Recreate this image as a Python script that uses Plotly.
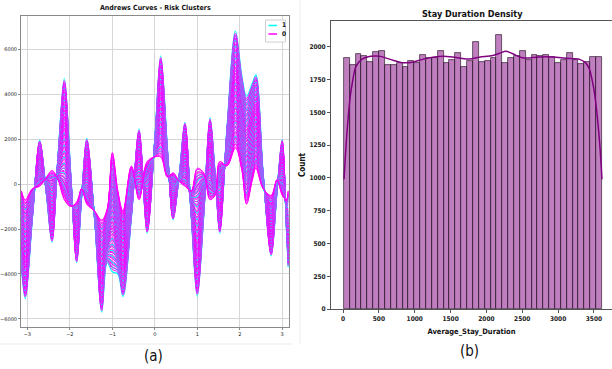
import plotly.graph_objects as go

# ---------------- data: Andrews curves ----------------
andrews_t = [-3.14, -3.05, -2.88, -2.71, -2.55, -2.42, -2.28, -2.13, -1.98, -1.84, -1.72, -1.60,
             -1.42, -1.25, -1.12, -1.00, -0.87, -0.75, -0.55, -0.37, -0.18, 0.00, 0.14, 0.30,
             0.43, 0.58, 0.71, 0.86, 1.00, 1.15, 1.30, 1.42, 1.53, 1.70, 1.90, 2.05, 2.16,
             2.30, 2.38, 2.55, 2.74, 2.88, 3.00, 3.10, 3.14]
curve_outer = [-3700, -5100, -1500, 1950, -500, -2600, 1200, 4700, 500, -3500, -500, 2030,
               -1500, -5700, -3500, -3900, -4000, -5000, -1500, 2450, -2200, 2000, 5700, 1500,
               -1600, 500, 2750, -1500, -5000, -1500, 2950, 500, -2200, 2500, 6800, 4800, 3900,
               4500, 4850, 500, -3200, -300, 1985, -2000, -3700]
curve_inner = [-300, -700, -200, -100, 300, 600, 200, -700, -1000, -800, -200, -900,
               -1200, -1600, -1100, 1400, -300, -1200, 800, -700, 1000, 1200, 1200, 300,
               500, 100, -100, -300, 700, 500, -700, -500, 1000, 800, 1600, 600, -900,
               200, 700, -200, -500, 200, -500, -700, -300]
# per-row mix between the inner and outer curve, one list per risk cluster
rows_cluster1 = [1.0, 0.96, 0.92, 0.87, 0.82, 0.77, 0.72, 0.66, 0.61, 0.55, 0.5, 0.45, 0.4,
                 0.35, 0.3, 0.26, 0.22, 0.18, 0.14, 0.1, 0.06]
rows_cluster0 = [0.98, 0.96, 0.94, 0.93, 0.91, 0.89, 0.88, 0.86, 0.84, 0.83, 0.81, 0.79, 0.78,
                 0.76, 0.74, 0.73, 0.71, 0.69, 0.68, 0.66, 0.64, 0.63, 0.61, 0.59, 0.58, 0.56,
                 0.54, 0.53, 0.51, 0.49, 0.48, 0.46, 0.44, 0.43, 0.41, 0.39, 0.38, 0.36, 0.34,
                 0.33, 0.31, 0.29, 0.28, 0.26, 0.24, 0.23, 0.21, 0.19, 0.18, 0.16, 0.14, 0.13,
                 0.11, 0.09, 0.08, 0.06, 0.04, 0.03, 0.01, 0.0]
cluster_labels = ["1", "0"]
andrews_xticks = [-3, -2, -1, 0, 1, 2, 3]
andrews_yticks = [-6000, -4000, -2000, 0, 2000, 4000, 6000]

# ---------------- data: Stay duration histogram ----------------
bin_start = 12
bin_width = 81.8
hist_counts = [1918, 1865, 1949, 1929, 1888, 1959, 1969, 1865, 1865, 1880, 1847, 1893, 1880,
               1941, 1918, 1918, 1972, 1878, 1903, 1954, 1847, 1895, 2036, 1883, 1890, 1916,
               2089, 1880, 1916, 1929, 1969, 1903, 1939, 1929, 1939, 1923, 1878, 1903, 1954,
               1903, 1872, 1888, 1923, 1923]
kde_x = [14, 40, 70, 100, 134, 180, 260, 350, 450, 520, 660, 830, 970, 1110, 1250, 1440, 1620,
         1760, 1900, 2090, 2200, 2270, 2360, 2500, 2740, 2920, 3110, 3300, 3380, 3430, 3470,
         3510, 3550, 3585, 3612]
kde_y = [990, 1230, 1450, 1620, 1740, 1850, 1905, 1925, 1930, 1928, 1905, 1880, 1884, 1905,
         1922, 1928, 1916, 1908, 1922, 1935, 1955, 1967, 1950, 1918, 1924, 1924, 1914, 1905,
         1880, 1840, 1760, 1640, 1450, 1230, 990]
hist_xticks = [0, 500, 1000, 1500, 2000, 2500, 3000, 3500]
hist_yticks = [0, 250, 500, 750, 1000, 1250, 1500, 1750, 2000]

W, H = 612, 369
CYAN = "#00FFFF"
MAGENTA = "#FF00FF"
FONT = "DejaVu Sans Condensed, DejaVu Sans, sans-serif"


def px_x(p):
    return p / W


def px_y(p):
    return (H - p) / H


def row_curve(w):
    return [a + w * (b - a) for a, b in zip(curve_inner, curve_outer)]


fig = go.Figure()

# rows of both clusters drawn in data-frame order (sorted by mix, alternating clusters)
rows = [(w, CYAN, 1.2) for w in rows_cluster1] + [(w, MAGENTA, 1.0) for w in rows_cluster0]
rows.sort(key=lambda r: -r[0])
for w, col, lw in rows:
    fig.add_trace(go.Scatter(
        x=andrews_t, y=row_curve(w), mode="lines",
        line=dict(color=col, width=lw, shape="spline", smoothing=1.0),
        showlegend=False, hoverinfo="skip", xaxis="x", yaxis="y"))

# histogram bars
centers = [bin_start + bin_width * (k + 0.5) for k in range(len(hist_counts))]
fig.add_trace(go.Bar(
    x=centers, y=hist_counts, width=bin_width,
    marker=dict(color="rgba(128,0,128,0.5)", line=dict(color="rgba(45,25,45,0.85)", width=0.8)),
    showlegend=False, xaxis="x2", yaxis="y2"))
fig.add_trace(go.Scatter(
    x=kde_x, y=kde_y, mode="lines",
    line=dict(color="#800080", width=1.5, shape="spline", smoothing=1.0),
    showlegend=False, xaxis="x2", yaxis="y2"))

tick_small = dict(family="DejaVu Sans", size=5, color="#222")
tick_right = dict(family=FONT, size=6.5, color="#222", weight="bold")

fig.update_layout(
    template="none",
    width=W, height=H, margin=dict(l=0, r=0, t=0, b=0, autoexpand=False),
    paper_bgcolor="white", plot_bgcolor="white",
    bargap=0,
    xaxis=dict(domain=[px_x(21), px_x(289)], range=[-3.15, 3.16], automargin=False,
               tickvals=andrews_xticks, ticktext=[str(v).replace("-", "\u2212") for v in andrews_xticks],
               showgrid=True, gridcolor="#d6d6d6", gridwidth=1, zeroline=False,
               showline=True, linecolor="#8a8a8a", linewidth=1, mirror=True,
               ticks="outside", ticklen=2, tickcolor="#8a8a8a", tickfont=tick_small),
    yaxis=dict(domain=[px_y(327), px_y(16)], range=[-6356, 7467], automargin=False,
               tickvals=andrews_yticks, ticktext=[str(v).replace("-", "\u2212") for v in andrews_yticks],
               showgrid=True, gridcolor="#d6d6d6", gridwidth=1, zeroline=False,
               showline=True, linecolor="#8a8a8a", linewidth=1, mirror=True,
               ticks="outside", ticklen=2, tickcolor="#8a8a8a", tickfont=tick_small),
    xaxis2=dict(domain=[px_x(331), 1.0], range=[-168, 3752], anchor="y2", automargin=False,
                tickvals=hist_xticks, ticktext=[str(v) for v in hist_xticks],
                showgrid=False, zeroline=False,
                showline=True, linecolor="#555", linewidth=1, mirror=True,
                ticks="outside", ticklen=3, tickcolor="#555", tickfont=tick_right,
                title=dict(text="Average_Stay_Duration", standoff=6,
                           font=dict(family=FONT, size=7.5, color="#111", weight="bold"))),
    yaxis2=dict(domain=[px_y(309), px_y(21)], range=[0, 2198], anchor="x2", automargin=False,
                tickvals=hist_yticks, ticktext=[str(v) for v in hist_yticks],
                showgrid=False, zeroline=False,
                showline=True, linecolor="#555", linewidth=1, mirror=True,
                ticks="outside", ticklen=3, tickcolor="#555", tickfont=tick_right,
                title=dict(text="Count", standoff=2,
                           font=dict(family=FONT, size=8, color="#111", weight="bold"))),
)

annotations = [
    dict(text="<b>Andrews Curves - Risk Clusters</b>", x=px_x(155), y=px_y(8), xref="paper", yref="paper",
         showarrow=False, xanchor="center", yanchor="middle", font=dict(family=FONT, size=7, color="#111")),
    dict(text="<b>Stay Duration Density</b>", x=px_x(472), y=px_y(14), xref="paper", yref="paper",
         showarrow=False, xanchor="center", yanchor="middle", font=dict(family=FONT, size=9, color="#111")),
    dict(text="(a)", x=px_x(153), y=px_y(356), xref="paper", yref="paper",
         showarrow=False, xanchor="center", yanchor="middle", font=dict(family=FONT, size=15, color="#111")),
    dict(text="(b)", x=px_x(469), y=px_y(351), xref="paper", yref="paper",
         showarrow=False, xanchor="center", yanchor="middle", font=dict(family=FONT, size=15, color="#111")),
]
# compact legend
for lab, col, yy in ((cluster_labels[0], CYAN, 25.5), (cluster_labels[1], MAGENTA, 34)):
    annotations.append(dict(text="<b>" + lab + "</b>", x=px_x(279.5), y=px_y(yy), xref="paper", yref="paper",
                            showarrow=False, xanchor="left", yanchor="middle",
                            font=dict(family=FONT, size=6.5, color="#111")))
fig.update_layout(annotations=annotations)

shapes = [
    dict(type="rect", xref="paper", yref="paper", x0=px_x(265.5), x1=px_x(285.5), y0=px_y(42), y1=px_y(20),
         line=dict(color="#cfcfcf", width=1), fillcolor="rgba(255,255,255,0.85)", layer="above"),
    dict(type="line", xref="paper", yref="paper", x0=px_x(268.5), x1=px_x(277), y0=px_y(25.5), y1=px_y(25.5),
         line=dict(color=CYAN, width=1.5), layer="above"),
    dict(type="line", xref="paper", yref="paper", x0=px_x(268.5), x1=px_x(277), y0=px_y(34), y1=px_y(34),
         line=dict(color=MAGENTA, width=1.5), layer="above"),
    dict(type="line", xref="paper", yref="paper", x0=px_x(300), x1=px_x(300), y0=px_y(344), y1=px_y(0),
         line=dict(color="#ececec", width=1)),
    dict(type="line", xref="paper", yref="paper", x0=px_x(0), x1=px_x(293), y0=px_y(344), y1=px_y(344),
         line=dict(color="#ececec", width=1)),
]
fig.update_layout(shapes=shapes)

fig.write_html("out.html", config={"displayModeBar": False},
               post_script="document.body.style.margin='0px';document.body.style.overflow='hidden';")
